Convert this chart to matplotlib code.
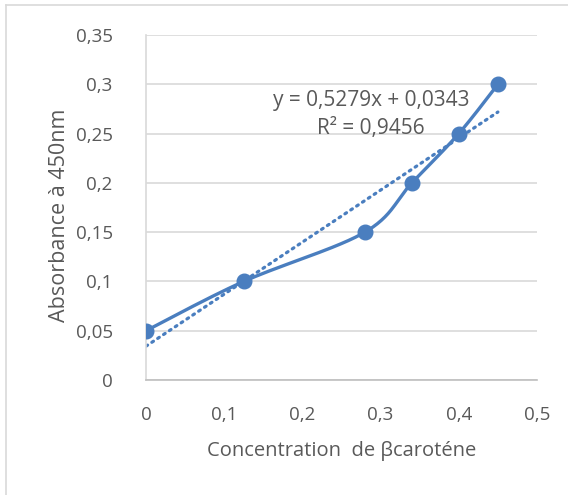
import numpy as np
import matplotlib
matplotlib.use("Agg")
import matplotlib.pyplot as plt
from matplotlib.lines import Line2D
from matplotlib.ticker import FixedLocator, FuncFormatter

# Data
conc = [0.0, 0.125, 0.28, 0.34, 0.40, 0.45]
absorb = [0.05, 0.10, 0.15, 0.20, 0.25, 0.30]
slope = 0.5279
intercept = 0.0343
r2 = 0.9456
x_ticks = [0, 0.1, 0.2, 0.3, 0.4, 0.5]
y_ticks = [0, 0.05, 0.1, 0.15, 0.2, 0.25, 0.3, 0.35]

blue = "#4a7ebf"
grey_txt = "#595959"
plt.rcParams['font.family'] = ['Open Sans', 'DejaVu Sans']

fig = plt.figure(figsize=(5.68, 4.95), dpi=100)
W, H = 568, 495
ax = fig.add_axes([146 / W, 1 - 380 / H, (537 - 146) / W, (380 - 35) / H])

# chart-area border (top & left visible)
fig.add_artist(Line2D([6 / W, 6 / W], [0, 1 - 5 / H], transform=fig.transFigure, color="#d9d9d9", lw=1.2))
fig.add_artist(Line2D([6 / W, 1], [1 - 5 / H, 1 - 5 / H], transform=fig.transFigure, color="#d9d9d9", lw=1.2))


def smooth(xs, ys, n=30):
    xs = np.asarray(xs, float); ys = np.asarray(ys, float)
    P = np.column_stack([xs, ys])
    out = []
    for i in range(len(P) - 1):
        p0 = P[i - 1] if i > 0 else P[i]
        p1 = P[i]; p2 = P[i + 1]
        p3 = P[i + 2] if i + 2 < len(P) else P[i + 1]
        c1 = p1 + (p2 - p0) / 6
        c2 = p2 - (p3 - p1) / 6
        t = np.linspace(0, 1, n)[:, None]
        seg = (1 - t) ** 3 * p1 + 3 * (1 - t) ** 2 * t * c1 + 3 * (1 - t) * t ** 2 * c2 + t ** 3 * p2
        out.append(seg if i == 0 else seg[1:])
    S = np.vstack(out)
    return S[:, 0], S[:, 1]

sx, sy = smooth(conc, absorb)
ax.plot(sx, sy, color=blue, lw=2.4, zorder=3, solid_capstyle='round')
ax.plot(conc, absorb, 'o', color=blue, ms=10.5, zorder=4)

tx = np.array([min(conc), max(conc)])
ax.plot(tx, slope * tx + intercept, color=blue, lw=2.3, ls=(0, (0.6, 1.6)),
        dash_capstyle='round', zorder=2)

fmt = lambda v: ("%g" % v).replace('.', ',')
ax.text(0.288, 0.2695, "y = %sx + %s\nR² = %s" % (fmt(slope), fmt(intercept), fmt(r2)),
        ha='center', va='center', fontsize=15, color=grey_txt, linespacing=1.45, zorder=5)

ax.set_xlim(0, 0.5)
ax.set_ylim(0, 0.35)
ax.xaxis.set_major_locator(FixedLocator(x_ticks))
ax.yaxis.set_major_locator(FixedLocator(y_ticks))
ax.xaxis.set_major_formatter(FuncFormatter(lambda v, p: fmt(round(v, 2))))
ax.yaxis.set_major_formatter(FuncFormatter(lambda v, p: fmt(round(v, 2))))
ax.grid(axis='y', color="#d9d9d9", lw=1.2)
ax.set_axisbelow(True)
for s in ['top', 'right']:
    ax.spines[s].set_visible(False)
ax.spines['left'].set_color("#d9d9d9")
ax.spines['left'].set_linewidth(1.2)
ax.spines['bottom'].set_color("#bfbfbf")
ax.spines['bottom'].set_linewidth(1.2)
ax.tick_params(length=0, labelsize=13.5, colors=grey_txt)
ax.tick_params(axis='x', pad=19)
ax.tick_params(axis='y', pad=24)
ax.set_xlabel("Concentration  de βcaroténe", fontsize=14.5, color=grey_txt, labelpad=12)
ax.set_ylabel("Absorbance à 450nm", fontsize=15.5, color=grey_txt, va='center')
ax.yaxis.set_label_coords(-0.22, 0.478)

fig.savefig("out.png", dpi=100)
